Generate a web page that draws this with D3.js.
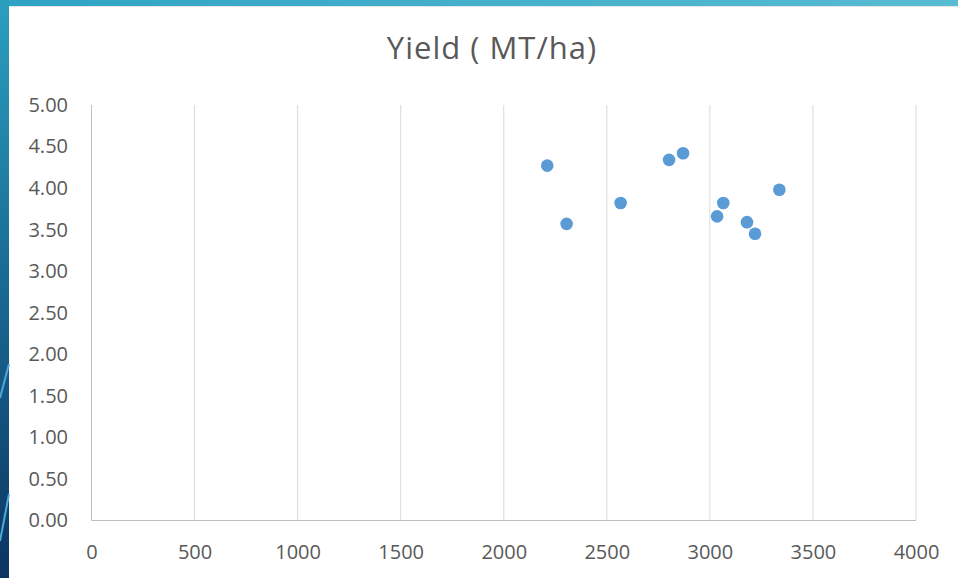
<!DOCTYPE html>
<html><head><meta charset="utf-8">
<script src="https://cdn.jsdelivr.net/npm/d3@7"></script>
<style>html,body{margin:0;padding:0;background:#fff;overflow:hidden}</style>
</head><body>
<svg id="c" width="958" height="578"></svg>
<script>
const chartTitle = "Yield ( MT/ha)";
const xValues = [2211, 2305, 2567, 2802, 2870, 3035, 3065, 3180, 3219, 3337];
const yValues = [4.27, 3.57, 3.82, 4.34, 4.42, 3.66, 3.82, 3.59, 3.45, 3.98];
const xTicks = [0, 500, 1000, 1500, 2000, 2500, 3000, 3500, 4000];
const yTicks = [0, 0.5, 1, 1.5, 2, 2.5, 3, 3.5, 4, 4.5, 5];

const svg = d3.select("#c");
const W = 958, H = 578;
const defs = svg.append("defs");
const lg = defs.append("linearGradient").attr("id","side").attr("x1",0).attr("y1",0).attr("x2",0).attr("y2",1);
lg.append("stop").attr("offset","0%").attr("stop-color","#2b9fbf");
lg.append("stop").attr("offset","45%").attr("stop-color","#1a6e98");
lg.append("stop").attr("offset","100%").attr("stop-color","#0c3560");
const tg = defs.append("linearGradient").attr("id","top").attr("x1",0).attr("y1",0).attr("x2",1).attr("y2",0);
tg.append("stop").attr("offset","0%").attr("stop-color","#2fa3c4");
tg.append("stop").attr("offset","100%").attr("stop-color","#58bcd3");

svg.append("rect").attr("x",0).attr("y",0).attr("width",W).attr("height",H).attr("fill","#fff");
svg.append("rect").attr("x",0).attr("y",0).attr("width",W).attr("height",6).attr("fill","url(#top)");
svg.append("rect").attr("x",0).attr("y",0).attr("width",9).attr("height",H).attr("fill","url(#side)");
svg.append("line").attr("x1",0).attr("y1",398).attr("x2",9).attr("y2",364).attr("stroke","#4aa8e0").attr("stroke-width",2);
svg.append("line").attr("x1",0).attr("y1",541).attr("x2",9).attr("y2",494).attr("stroke","#4aa8e0").attr("stroke-width",2);
svg.append("line").attr("x1",9).attr("y1",6.5).attr("x2",W).attr("y2",6.5).attr("stroke","#e6e6e6");

const x = d3.scaleLinear().domain([0,4000]).range([91.5,916]);
const y = d3.scaleLinear().domain([0,5]).range([520.5,105]);
const font = "'Open Sans', 'Segoe UI', sans-serif";

// vertical gridlines
svg.append("g").selectAll("line").data(xTicks.filter(d=>d>0)).join("line")
  .attr("x1",d=>x(d)).attr("x2",d=>x(d)).attr("y1",y(5)).attr("y2",y(0))
  .attr("stroke","#d9d9d9").attr("stroke-width",1);
// axes lines
svg.append("line").attr("x1",x(0)).attr("x2",x(0)).attr("y1",y(5)).attr("y2",y(0)).attr("stroke","#bfbfbf");
svg.append("line").attr("x1",x(0)).attr("x2",x(4000)).attr("y1",y(0)).attr("y2",y(0)).attr("stroke","#bfbfbf");

const xAxis = d3.axisBottom(x).tickValues(xTicks).tickSize(0).tickPadding(24.5).tickFormat(d3.format("d"));
const gx = svg.append("g").attr("transform",`translate(0,${y(0)})`).call(xAxis);
gx.select(".domain").remove();
gx.selectAll("text").attr("fill","#595959").style("font-family",font).style("font-size","20px");

const yAxis = d3.axisLeft(y).tickValues(yTicks).tickSize(0).tickPadding(23.5).tickFormat(d3.format(".2f"));
const gy = svg.append("g").attr("transform",`translate(${x(0)},0)`).call(yAxis);
gy.select(".domain").remove();
gy.selectAll("text").attr("fill","#595959").style("font-family",font).style("font-size","20px");

svg.append("text").attr("x",492).attr("y",59).attr("text-anchor","middle")
  .attr("fill","#595959").style("font-family",font).style("font-size","31px")
  .style("letter-spacing","1px").text(chartTitle);

const pts = xValues.map((v,i)=>({x:v,y:yValues[i]}));
svg.append("g").selectAll("circle").data(pts).join("circle")
  .attr("cx",d=>x(d.x)).attr("cy",d=>y(d.y)).attr("r",6.3)
  .attr("fill","#5b9bd5");
</script>
</body></html>
